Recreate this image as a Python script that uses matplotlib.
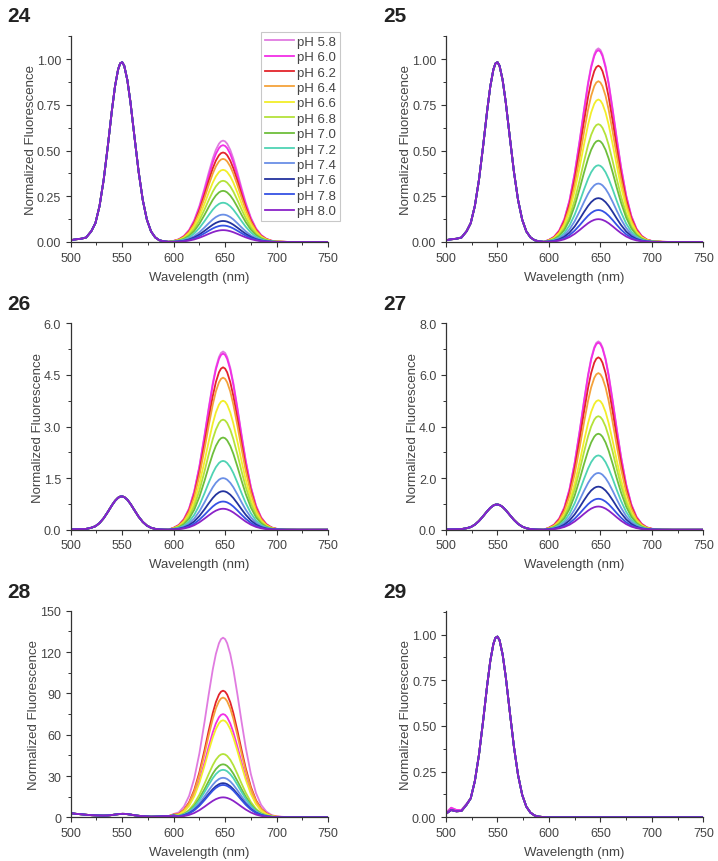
import numpy as np
import matplotlib
matplotlib.use("Agg")
import matplotlib.pyplot as plt
from matplotlib.ticker import MultipleLocator, FormatStrFormatter

plt.rcParams['font.family'] = ['Liberation Sans', 'DejaVu Sans']

# longitudes de onda (nm), más densas cerca de los picos
wl = [500, 505, 510, 515, 520, 524, 528, 532, 536, 540, 543, 546, 548, 550, 552,
      555, 558, 562, 566, 570, 574, 578, 582, 586, 590, 595,
      600, 605, 610, 615, 620, 625, 630, 634, 638, 641, 644, 646, 648, 650, 652,
      655, 658, 662, 666, 670, 675, 680, 685, 690, 695, 700, 710, 720, 730, 740, 750]

# forma de la banda del donador (~549 nm), normalizada
donador = [0.010, 0.015, 0.018, 0.025, 0.060, 0.105, 0.200, 0.345, 0.531, 0.731,
           0.864, 0.958, 0.992, 0.999, 0.979, 0.900, 0.778, 0.581, 0.389, 0.233,
           0.124, 0.059, 0.026, 0.010, 0.004, 0.001] + [0.0] * 31

# forma de la banda del aceptor (~648 nm), normalizada
aceptor = [0.0] * 26 + [0.011, 0.027, 0.060, 0.119, 0.216, 0.356, 0.531, 0.682,
                        0.823, 0.909, 0.969, 0.992, 1.000, 0.992, 0.969, 0.909,
                        0.823, 0.682, 0.531, 0.389, 0.241, 0.135, 0.069, 0.032,
                        0.013, 0.005, 0.001, 0.0, 0.0, 0.0, 0.0]

# ruido de fondo del panel 28
fondo_28 = [3.0, 2.5, 2.2, 1.8, 1.5, 1.3, 1.1, 0.9, 0.8, 0.9, 1.1, 1.3, 1.4, 1.5,
            1.5, 1.4, 1.2, 0.9, 0.7, 0.6, 0.5, 0.4, 0.5, 0.6, 0.8, 0.8, 1.0] + [0.0] * 30

# hombro del panel 29
hombro_29 = [0.010, 0.025, 0.015, 0.010, 0.010] + [0.0] * 52

etiquetas_ph = ['pH 5.8', 'pH 6.0', 'pH 6.2', 'pH 6.4', 'pH 6.6', 'pH 6.8',
                'pH 7.0', 'pH 7.2', 'pH 7.4', 'pH 7.6', 'pH 7.8', 'pH 8.0']
colores = ['#E07BE0', '#F22EE6', '#E3242B', '#F4A23A', '#F2EE2A', '#B4E23A',
           '#6EBE3C', '#4FD3B4', '#6A8FE6', '#23339E', '#3552E4', '#8A22C8']

# altura del pico del aceptor por pH
picos_24 = [0.555, 0.53, 0.49, 0.455, 0.395, 0.335, 0.28, 0.215, 0.15, 0.115, 0.09, 0.065]
picos_25 = [1.06, 1.05, 0.965, 0.88, 0.78, 0.645, 0.555, 0.42, 0.32, 0.24, 0.175, 0.125]
picos_26 = [5.18, 5.12, 4.72, 4.42, 3.75, 3.20, 2.68, 2.00, 1.50, 1.12, 0.82, 0.61]
picos_27 = [7.30, 7.25, 6.68, 6.07, 5.02, 4.40, 3.72, 2.88, 2.20, 1.67, 1.20, 0.90]
picos_28 = [130.5, 75.0, 92.0, 87.0, 70.5, 46.0, 38.5, 34.5, 28.7, 24.8, 23.5, 14.5]
picos_29 = [0.0] * 12

# altura del pico del donador por panel
alt_donador = {'24': 0.985, '25': 0.985, '26': 0.97, '27': 0.98, '28': 1.0, '29': 0.99}

paneles = [
    ('24', picos_24, 1.13, 0.25, 0.125, '%.2f'),
    ('25', picos_25, 1.13, 0.25, 0.125, '%.2f'),
    ('26', picos_26, 6.0, 1.5, 0.75, '%.1f'),
    ('27', picos_27, 8.0, 2.0, 1.0, '%.1f'),
    ('28', picos_28, 150, 30, 15, '%d'),
    ('29', picos_29, 1.13, 0.25, 0.125, '%.2f'),
]

fig = plt.figure(figsize=(7.18, 8.62), dpi=100)

pos_x = [0.0985, 0.6212]
pos_y = [0.7181, 0.3843, 0.0507]
ancho, alto = 0.3584, 0.2395
gris = '#444444'

for i, (nombre, picos, ymax, mayor, menor, fmt) in enumerate(paneles):
    col, fila = i % 2, i // 2
    ax = fig.add_axes([pos_x[col], pos_y[fila], ancho, alto])

    for j in range(12):
        y = alt_donador[nombre] * np.array(donador) + picos[j] * np.array(aceptor)
        if nombre == '28':
            y = y + np.array(fondo_28)
        if nombre == '29':
            y = y + np.array(hombro_29) * (1.5 if j < 2 else 1.0)
        ax.plot(wl, y, color=colores[j], lw=1.3, label=etiquetas_ph[j])

    ax.set_xlim(500, 750)
    ax.set_ylim(0, ymax)
    ax.xaxis.set_major_locator(MultipleLocator(50))
    ax.xaxis.set_minor_locator(MultipleLocator(25))
    ax.yaxis.set_major_locator(MultipleLocator(mayor))
    ax.yaxis.set_minor_locator(MultipleLocator(menor))
    ax.yaxis.set_major_formatter(FormatStrFormatter(fmt))

    for s in ['top', 'right']:
        ax.spines[s].set_visible(False)
    for s in ['left', 'bottom']:
        ax.spines[s].set_color('#333333')
        ax.spines[s].set_linewidth(0.9)
    ax.tick_params(which='major', direction='out', length=3.5, width=0.8,
                   colors='#333333', labelcolor=gris, labelsize=9)
    ax.tick_params(which='minor', direction='out', length=2, width=0.7, colors='#333333')

    ax.set_xlabel('Wavelength (nm)', fontsize=9.5, color=gris, labelpad=5)
    ax.set_ylabel('Normalized Fluorescence', fontsize=9.5, color=gris, labelpad=0)

    # etiqueta del panel
    fig.text(pos_x[col] - 0.088, pos_y[fila] + alto + 0.012, nombre,
             fontsize=15, fontweight='bold', color='#222222', va='bottom')

    if nombre == '24':
        leg = ax.legend(loc='upper right', bbox_to_anchor=(1.047, 1.019),
                        fontsize=9.5, frameon=True, fancybox=False,
                        handlelength=2.2, handletextpad=0.25, labelspacing=0.24,
                        borderpad=0.3, borderaxespad=0)
        leg.get_frame().set_edgecolor('#BBBBBB')
        leg.get_frame().set_linewidth(0.8)
        for t in leg.get_texts():
            t.set_color(gris)

fig.savefig('out.png', dpi=100)
